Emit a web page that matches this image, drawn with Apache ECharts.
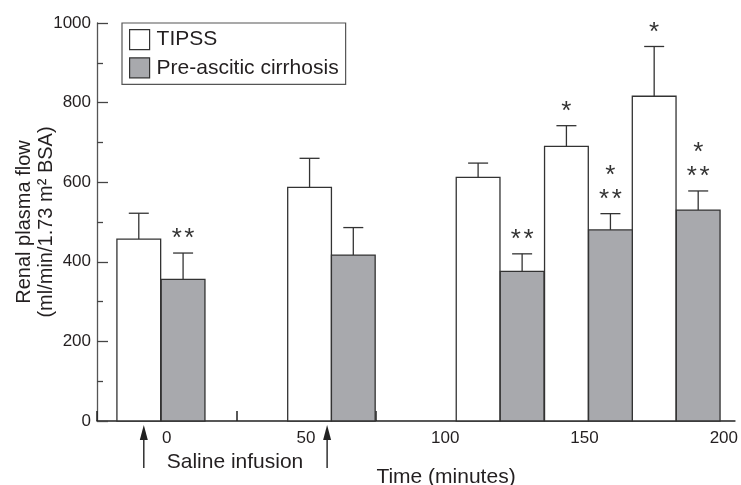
<!DOCTYPE html>
<html>
<head>
<meta charset="utf-8">
<script src="https://cdn.jsdelivr.net/npm/echarts@6/dist/echarts.min.js"></script>
<style>
html,body{margin:0;padding:0;background:#fff;}
#chart{width:741px;height:485px;}
</style>
</head>
<body>
<div id="chart"></div>
<script>
// ---- data ----
var seriesNames = ['TIPSS', 'Pre-ascitic cirrhosis'];
var timeTIPSS = [-10, 51.3, 111.8, 143.5, 175];      // bar centres (minutes)
var timeCirrhosis = [5.9, 67, 127.6, 159.3, 190.8];
var valTIPSS = [457, 587, 612, 690, 816];
var errTIPSS = [65, 73, 36, 52, 125];
var valCirrhosis = [356, 417, 376, 480, 530];
var errCirrhosis = [66, 69, 44, 41, 48];
// significance marks: number of asterisks on each line (top line first)
var starsTIPSS = [[], [], [], [1], [1]];
var starsCirrhosis = [[2], [], [2], [1, 2], [1, 2]];
var barWidthMin = 15.7;
var xLabelValues = [0, 50, 100, 150, 200];
var xTickValues = [-25, 25, 75, 125, 175];
var arrowTimes = [-8.2, 57.6];

var FONT = '"Liberation Sans", Arial, Helvetica, sans-serif';
var TXT = '#231f20';
var EDGE = '#333333';
var GRAY = '#a8a9ad';

function makeData(t, v, e, s) {
  return t.map(function (x, i) { return { value: [x, v[i], e[i]], stars: s[i] }; });
}

function barRender(fill) {
  return function (params, api) {
    var x = api.value(0), v = api.value(1), e = api.value(2);
    var pL = api.coord([x - barWidthMin / 2, 0]);
    var pR = api.coord([x + barWidthMin / 2, v]);
    var pe = api.coord([x, v + e]);
    var children = [
      { type: 'rect', shape: { x: pL[0], y: pR[1], width: pR[0] - pL[0], height: pL[1] - pR[1] },
        style: { fill: fill, stroke: EDGE, lineWidth: 1.3 } },
      { type: 'line', shape: { x1: pe[0], y1: pR[1], x2: pe[0], y2: pe[1] },
        style: { stroke: EDGE, lineWidth: 1.3 } },
      { type: 'line', shape: { x1: pe[0] - 10, y1: pe[1], x2: pe[0] + 10, y2: pe[1] },
        style: { stroke: EDGE, lineWidth: 1.3 } }
    ];
    var st = (params.seriesIndex === 0 ? dTIPSS : dCirr)[params.dataIndex].stars;
    var n = st.length;
    st.forEach(function (cnt, k) {
      var yc = pe[1] - 22 - (n - 1 - k) * 24;
      for (var j = 0; j < cnt; j++) {
        var xc = pe[0] + (j - (cnt - 1) / 2) * 12.7;
        children.push({ type: 'text', x: xc, y: yc + 8,
          style: { text: '*', font: '26px ' + FONT, fill: '#333', align: 'center', verticalAlign: 'middle' } });
      }
    });
    return { type: 'group', children: children };
  };
}

var dTIPSS = makeData(timeTIPSS, valTIPSS, errTIPSS, starsTIPSS);
var dCirr = makeData(timeCirrhosis, valCirrhosis, errCirrhosis, starsCirrhosis);

var chart = echarts.init(document.getElementById('chart'), null, { renderer: 'canvas' });
chart.setOption({
  animation: false,
  backgroundColor: '#fff',
  grid: { left: 97, right: 6, top: 23, bottom: 64, containLabel: false },
  legend: {
    orient: 'vertical', left: 122, top: 23,
    padding: [6, 7, 6, 7], itemGap: 7, itemWidth: 20, itemHeight: 20,
    borderColor: '#555', borderWidth: 1.2, icon: 'rect',
    textStyle: { fontSize: 21, fontFamily: FONT, color: TXT, padding: [0, 0, 0, 2] },
    data: [
      { name: seriesNames[0], itemStyle: { color: '#fff', borderColor: EDGE, borderWidth: 1.2 } },
      { name: seriesNames[1], itemStyle: { color: GRAY, borderColor: EDGE, borderWidth: 1.2 } }
    ]
  },
  xAxis: {
    type: 'value', min: -25, max: 204,
    splitLine: { show: false },
    axisLine: { show: true, onZero: false, lineStyle: { color: '#222', width: 1.5 } },
    axisTick: { show: true, inside: true, length: 10, customValues: xTickValues, lineStyle: { color: '#222', width: 1.5 } },
    axisLabel: { customValues: xLabelValues, fontSize: 17, fontFamily: FONT, color: TXT, margin: 9 }
  },
  yAxis: {
    type: 'value', min: 0, max: 1000, interval: 200,
    splitLine: { show: false },
    axisLine: { show: true, onZero: false, lineStyle: { color: '#555', width: 1.3 } },
    axisTick: { show: true, inside: true, length: 11, lineStyle: { color: '#444', width: 1.3 } },
    minorTick: { show: true, splitNumber: 2, length: 6, lineStyle: { color: '#444', width: 1.3 } },
    axisLabel: { fontSize: 17, fontFamily: FONT, color: TXT, margin: 6, formatter: function (v) { return String(v); } }
  },
  series: [
    { name: seriesNames[0], type: 'custom', renderItem: barRender('#ffffff'),
      itemStyle: { color: '#fff', borderColor: EDGE }, data: dTIPSS, clip: false, z: 3 },
    { name: seriesNames[1], type: 'custom', renderItem: barRender(GRAY),
      itemStyle: { color: GRAY, borderColor: EDGE }, data: dCirr, clip: false, z: 4 },
    { name: 'arrows', type: 'custom', silent: true, clip: false, z: 5,
      data: arrowTimes.map(function (t) { return [t, 0]; }),
      renderItem: function (params, api) {
        var p = api.coord([api.value(0), 0]);
        var tipY = p[1] + 4, botY = p[1] + 47;
        return { type: 'group', children: [
          { type: 'line', shape: { x1: p[0], y1: tipY + 10, x2: p[0], y2: botY }, style: { stroke: '#222', lineWidth: 1.4 } },
          { type: 'polygon', shape: { points: [[p[0], tipY], [p[0] - 4, tipY + 15], [p[0] + 4, tipY + 15]] }, style: { fill: '#222' } }
        ] };
      }
    }
  ],
  graphic: [
    { type: 'text', x: 235, y: 462, style: { text: 'Saline infusion', font: '21px ' + FONT, fill: TXT, align: 'center', verticalAlign: 'middle' } },
    { type: 'text', x: 446, y: 477, style: { text: 'Time (minutes)', font: '21px ' + FONT, fill: TXT, align: 'center', verticalAlign: 'middle' } },
    { type: 'text', x: 35, y: 222, rotation: Math.PI / 2,
      style: { text: 'Renal plasma flow\n(ml/min/1.73 m² BSA)', font: '20px ' + FONT, lineHeight: 22, fill: TXT, align: 'center', verticalAlign: 'middle' } }
  ]
});
</script>
</body>
</html>
